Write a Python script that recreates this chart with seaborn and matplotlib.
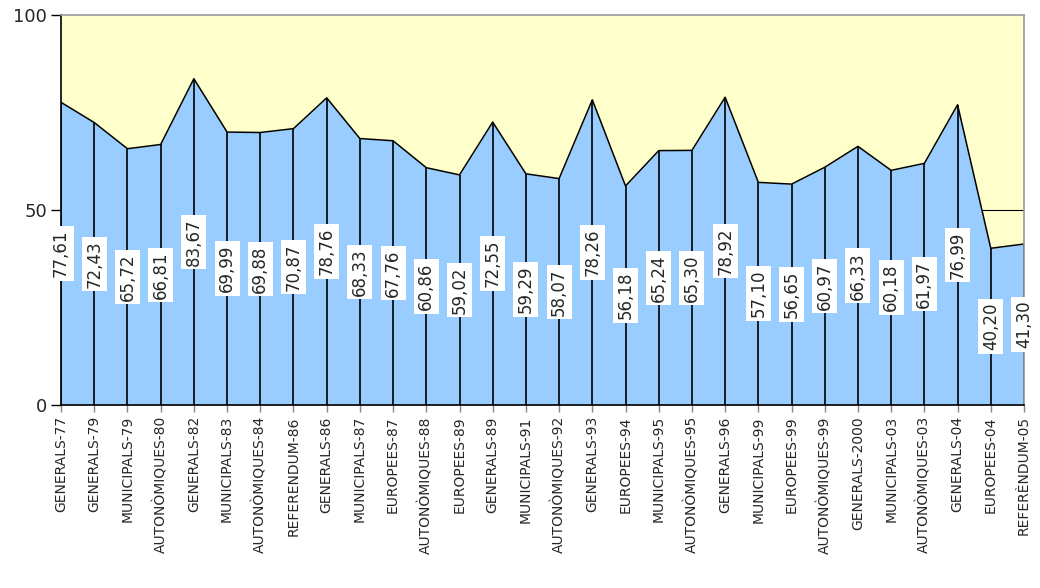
import numpy as np
import pandas as pd
import matplotlib
matplotlib.use("Agg")
import matplotlib.pyplot as plt
import seaborn as sns

# participation per election (%)
eleccions = ['GENERALS-77', 'GENERALS-79', 'MUNICIPALS-79', 'AUTONÒMIQUES-80', 'GENERALS-82',
             'MUNICIPALS-83', 'AUTONÒMIQUES-84', 'REFERENDUM-86', 'GENERALS-86', 'MUNICIPALS-87',
             'EUROPEES-87', 'AUTONÒMIQUES-88', 'EUROPEES-89', 'GENERALS-89', 'MUNICIPALS-91',
             'AUTONÒMIQUES-92', 'GENERALS-93', 'EUROPEES-94', 'MUNICIPALS-95', 'AUTONÒMIQUES-95',
             'GENERALS-96', 'MUNICIPALS-99', 'EUROPEES-99', 'AUTONÒMIQUES-99', 'GENERALS-2000',
             'MUNICIPALS-03', 'AUTONÒMIQUES-03', 'GENERALS-04', 'EUROPEES-04', 'REFERÈNDUM-05']
participacio = [77.61, 72.43, 65.72, 66.81, 83.67, 69.99, 69.88, 70.87, 78.76, 68.33,
                67.76, 60.86, 59.02, 72.55, 59.29, 58.07, 78.26, 56.18, 65.24, 65.30,
                78.92, 57.10, 56.65, 60.97, 66.33, 60.18, 61.97, 76.99, 40.20, 41.30]
total = 100

df = pd.DataFrame({'eleccio': eleccions, 'participacio': participacio})
df['x'] = np.arange(len(df))

sns.set_style('white')
plt.rcParams['font.family'] = ['DejaVu Sans']

fig = plt.figure(figsize=(10.4, 5.88), dpi=100)
ax = fig.add_axes([0.0587, 0.311, 0.9259, 0.6635])

# stacked area: participation + abstention up to 100
ax.fill_between(df['x'], 0, df['participacio'], color='#99CCFF', lw=0)
ax.fill_between(df['x'], df['participacio'], total, color='#FFFFCC', lw=0)
sns.lineplot(data=df, x='x', y='participacio', color='black', lw=1.1, ax=ax)
ax.vlines(df['x'], 0, df['participacio'], color='black', lw=1.2)

# stray line at 50 near the end of the original chart
last = len(df) - 1
ax.hlines(total / 2, last - 1.25, last, color='black', lw=0.8)

for xi, v in zip(df['x'], df['participacio']):
    ax.text(xi, v / 2, f'{v:.2f}'.replace('.', ','), rotation=90, ha='center', va='center',
            fontsize=12, bbox=dict(facecolor='white', edgecolor='none', pad=2.5))

ax.set_xlim(0, last)
ax.set_ylim(0, total)
ax.set_yticks([0, 50, 100])
ax.set_xticks(df['x'])
ax.set_xticklabels(df['eleccio'], rotation=90, fontsize=10)
ax.tick_params(axis='y', labelsize=13, length=7, width=1, color='black', direction='out', left=True, pad=3)
ax.tick_params(axis='x', length=5, width=1, color='#888888', direction='out', bottom=True, pad=3)
ax.set_xlabel('')
ax.set_ylabel('')

for side in ['top', 'right']:
    ax.spines[side].set_color('#999999')
    ax.spines[side].set_linewidth(1.2)
for side in ['left', 'bottom']:
    ax.spines[side].set_color('black')
    ax.spines[side].set_linewidth(1.2)

fig.savefig('out.png', dpi=100)
